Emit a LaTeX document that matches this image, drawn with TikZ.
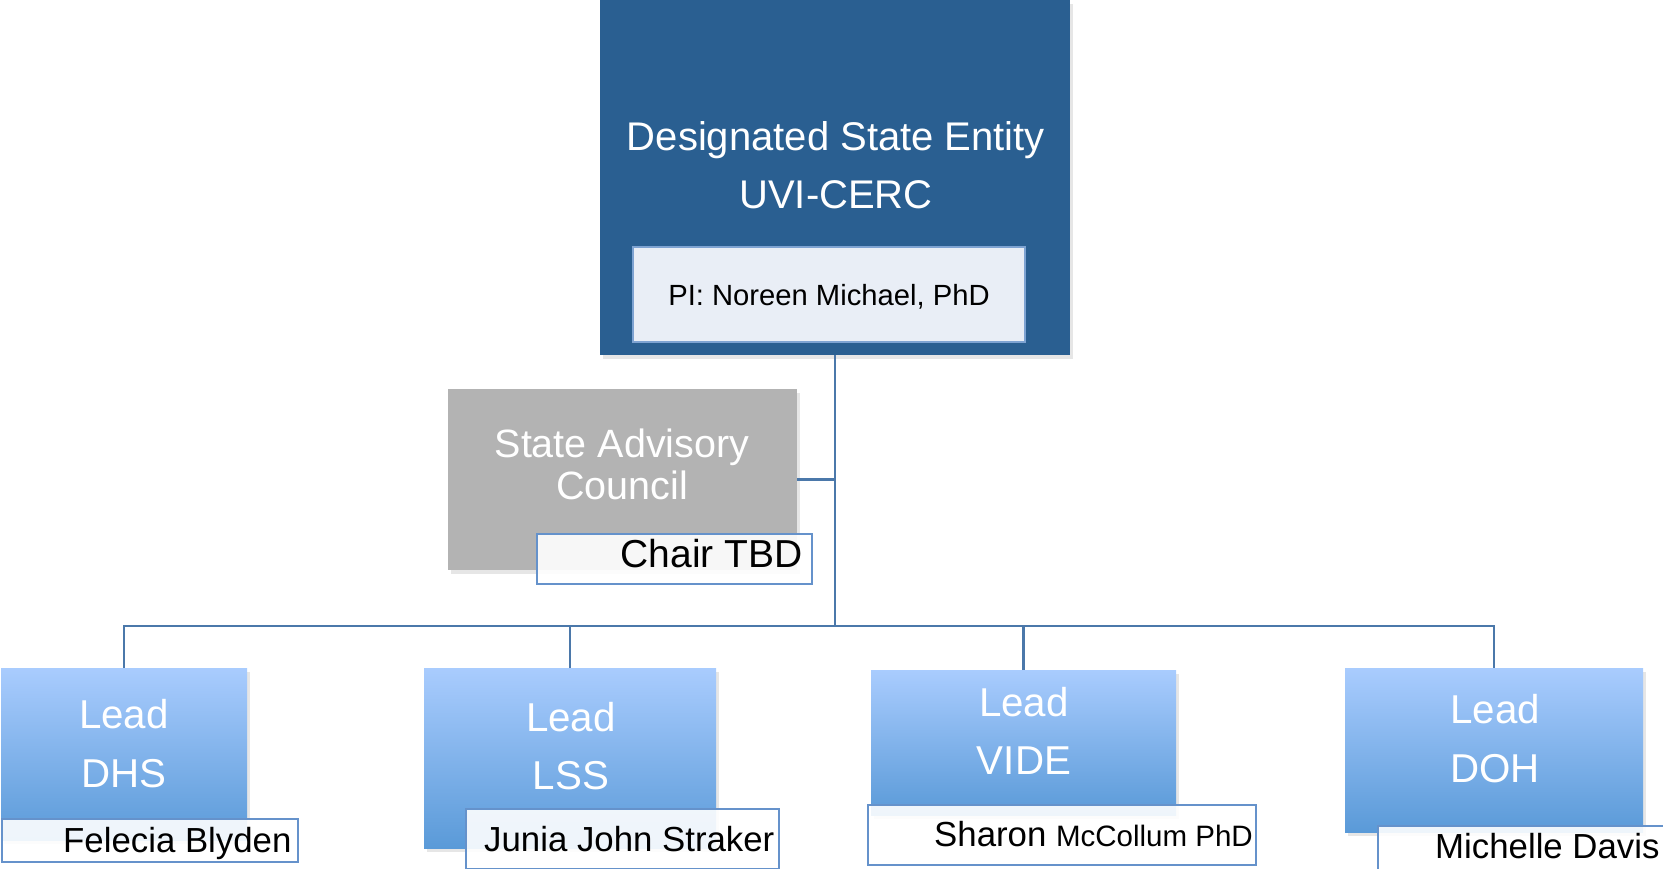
\documentclass[tikz,border=0pt]{standalone}
\usepackage{fontspec}
\setmainfont{Liberation Sans}
\usetikzlibrary{shadows}
\definecolor{topblue}{HTML}{2A5F91}
\definecolor{pifill}{HTML}{E9EEF6}
\definecolor{piborder}{HTML}{7EA3D2}
\definecolor{sacgray}{HTML}{B3B3B3}
\definecolor{leadtop}{HTML}{A9CCFE}
\definecolor{leadbot}{HTML}{5A9AD8}
\definecolor{nameborder}{HTML}{6592CB}
\definecolor{conncol}{HTML}{4B78AA}
\newcommand\ftitle{\fontsize{40}{48}\selectfont}
\newcommand\fpi{\fontsize{29.2}{35}\selectfont}
\newcommand\fsac{\fontsize{39.5}{47}\selectfont}
\newcommand\flead{\fontsize{40.3}{48}\selectfont}
\newcommand\fchair{\fontsize{39}{47}\selectfont}
\newcommand\fname{\fontsize{34.8}{42}\selectfont}
\newcommand\fsmall{\fontsize{29.5}{35}\selectfont}
\tikzset{
  box/.style={rectangle, inner sep=0pt, outer sep=0pt},
  shad/.style={drop shadow={opacity=0.2, shadow xshift=3pt, shadow yshift=-4pt}},
  topbox/.style={box, fill=topblue, shad},
  pibox/.style={box, fill=pifill, draw=piborder, line width=2pt},
  sacbox/.style={box, fill=sacgray, shad},
  leadbox/.style={box, top color=leadtop, bottom color=leadbot, shad},
  namebox/.style={box, fill=white, fill opacity=0.9, text opacity=1, draw=nameborder, line width=1.6pt},
  conn/.style={draw=conncol, line width=2.2pt},
  wlbl/.style={anchor=base, inner sep=0pt, text=white},
  blbl/.style={anchor=base, inner sep=0pt, text=black},
}
\begin{document}
\begin{tikzpicture}[x=1pt,y=-1pt]
\useasboundingbox (0,0) rectangle (1663,868);
\coordinate (bus) at (835,626);
% boxes
\node[topbox, minimum width=470pt, minimum height=355pt] (top) at (835,177.5) {};
\node[pibox, minimum width=392pt, minimum height=95pt] (pi) at (829,294.5) {};
\node[sacbox, minimum width=349pt, minimum height=181pt] (sac) at (622.5,479.5) {};
\node[leadbox, minimum width=246pt, minimum height=172pt] (dhs) at (124,754) {};
\node[leadbox, minimum width=292pt, minimum height=180pt] (lss) at (570,758) {};
\node[leadbox, minimum width=305pt, minimum height=145pt] (vide) at (1023.5,742.5) {};
\node[leadbox, minimum width=298pt, minimum height=164pt] (doh) at (1494,750) {};
% connector lines
\draw[conn] (top.south) -- (bus);
\draw[conn] (sac.east) -- (sac.east -| top.south);
\draw[conn] (dhs.north) -- (dhs.north |- bus) -- (doh.north |- bus) -- (doh.north);
\draw[conn] (lss.north) -- (lss.north |- bus);
\draw[conn] (vide.north) -- (vide.north |- bus);
% name boxes
\node[namebox, minimum width=275pt, minimum height=50pt] (chair) at (674.5,559) {};
\node[namebox, minimum width=296pt, minimum height=43pt] (fel) at (150,840.5) {};
\node[namebox, minimum width=313pt, minimum height=60pt] (jun) at (622.5,839) {};
\node[namebox, minimum width=388pt, minimum height=60pt] (sha) at (1062,835) {};
\node[namebox, minimum width=302pt, minimum height=54pt] (mic) at (1529,853) {};
% texts
\node[wlbl, font=\ftitle] (t1) at (836,150) {Designated State Entity};
\node[wlbl, font=\ftitle] (t2) at (836,208) {UVI-CERC};
\node[blbl, font=\fpi] (pit) at (829,305) {PI: Noreen Michael, PhD};
\node[wlbl, font=\fsac] (s1) at (622,457) {State Advisory};
\node[wlbl, font=\fsac] (s2) at (622,499) {Council};
\node[blbl, font=\fchair, anchor=base east] (ct) at (803,567) {Chair TBD};
\node[wlbl, font=\flead] (d1) at (124,728) {Lead};
\node[wlbl, font=\flead] (d2) at (124,787) {DHS};
\node[wlbl, font=\flead] (l1) at (571,731) {Lead};
\node[wlbl, font=\flead] (l2) at (571,789) {LSS};
\node[wlbl, font=\flead] (v1) at (1024,716) {Lead};
\node[wlbl, font=\flead] (v2) at (1024,774) {VIDE};
\node[wlbl, font=\flead] (o1) at (1495,723) {Lead};
\node[wlbl, font=\flead] (o2) at (1495,782) {DOH};
\node[blbl, font=\fname, anchor=base west] (ft) at (63,852) {Felecia Blyden};
\node[blbl, font=\fname, anchor=base west] (jt) at (484,851) {Junia John Straker};
\node[blbl, font=\fname, anchor=base west] (st) at (934,846) {Sharon {\fsmall McCollum PhD}};
\node[blbl, font=\fname, anchor=base west] (mt) at (1435,858) {Michelle Davis};
\end{tikzpicture}
\end{document}
